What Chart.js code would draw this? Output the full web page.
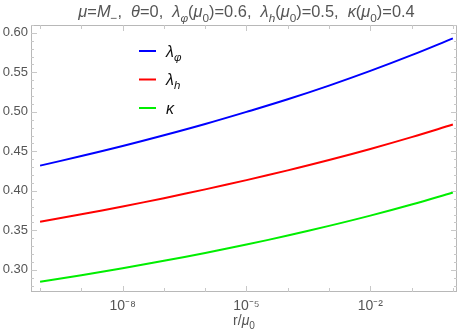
<!DOCTYPE html>
<html>
<head>
<meta charset="utf-8">
<script src="https://cdn.jsdelivr.net/npm/chart.js@4.4.1/dist/chart.umd.min.js"></script>
<style>
  html,body{margin:0;padding:0;background:#fff;}
  #wrap{width:463px;height:336px;position:relative;}
</style>
</head>
<body>
<div id="wrap"><canvas id="c" width="463" height="336"></canvas></div>
<script>
// ---- data ----
const rValues = [1e-10, 1e-9, 1e-8, 1e-7, 1e-6, 1e-5, 1e-4, 1e-3, 1e-2, 1e-1, 1];
const lambdaPhi = [0.4320, 0.4441, 0.4568, 0.4704, 0.4847, 0.5000, 0.5160, 0.5333, 0.5519, 0.5718, 0.5931];
const lambdaH   = [0.3610, 0.3704, 0.3803, 0.3908, 0.4019, 0.4136, 0.4260, 0.4391, 0.4531, 0.4681, 0.4840];
const kappa     = [0.2850, 0.2933, 0.3022, 0.3115, 0.3215, 0.3321, 0.3435, 0.3557, 0.3687, 0.3828, 0.3980];
const seriesNames = ['λφ', 'λh', 'κ'];
const yTicks = [0.30, 0.35, 0.40, 0.45, 0.50, 0.55, 0.60];
const xTickExps = [-8, -5, -2];
const xDecades = [-10, -9, -8, -7, -6, -5, -4, -3, -2, -1, 0];

// rich text pieces (sub = subscript, it = italic)
const titleSegs = [
  {t:'μ',it:1},{t:'='},{t:'M',it:1},{t:'−',sub:1},{t:',  '},{t:'θ',it:1},{t:'=0,  '},
  {t:'λ',it:1},{t:'φ',sub:1,it:1},{t:'('},{t:'μ',it:1},{t:'0',sub:1},{t:')=0.6,  '},
  {t:'λ',it:1},{t:'h',sub:1,it:1},{t:'('},{t:'μ',it:1},{t:'0',sub:1},{t:')=0.5,  '},
  {t:'κ',it:1},{t:'('},{t:'μ',it:1},{t:'0',sub:1},{t:')=0.4'}
];
const legendSegs = [
  [{t:'λ',it:1},{t:'φ',sub:1,it:1}],
  [{t:'λ',it:1},{t:'h',sub:1,it:1}],
  [{t:'κ',it:1}]
];
const xLabelSegs = [{t:'r/'},{t:'μ',it:1},{t:'0',sub:1}];

const FONT = '"Liberation Sans", Arial, sans-serif';
const SUP = {'-':'⁻','0':'⁰','1':'¹','2':'²','3':'³','4':'⁴','5':'⁵','6':'⁶','7':'⁷','8':'⁸','9':'⁹'};

function segFont(s, size){
  const sz = s.sub ? size*0.72 : size;
  return (s.it ? 'italic ' : '') + sz.toFixed(1) + 'px ' + FONT;
}
function richWidth(ctx, segs, size){
  let w = 0;
  for (const s of segs){ ctx.font = segFont(s,size); w += ctx.measureText(s.t).width; }
  return w;
}
function drawRich(ctx, segs, x, y, size, color, align){
  ctx.save();
  ctx.fillStyle = color;
  ctx.textBaseline = 'alphabetic';
  ctx.textAlign = 'left';
  let cx = x;
  if (align === 'center') cx = x - richWidth(ctx, segs, size)/2;
  for (const s of segs){
    ctx.font = segFont(s,size);
    ctx.fillText(s.t, cx, y + (s.sub ? size*0.28 : 0));
    cx += ctx.measureText(s.t).width;
  }
  ctx.restore();
}

const colors = ['#0000ff', '#ff0000', '#00ee00'];
const allSeries = [lambdaPhi, lambdaH, kappa];

const framePlugin = {
  id: 'frame',
  afterDatasetsDraw(chart){
    const ctx = chart.ctx;
    const a = chart.chartArea;
    const xs = chart.scales.x, ys = chart.scales.y;
    ctx.save();
    ctx.strokeStyle = '#b8b8b8';
    ctx.lineWidth = 1;
    ctx.strokeRect(Math.round(a.left)+0.5, Math.round(a.top)+0.5, Math.round(a.right-a.left)-1, Math.round(a.bottom-a.top)-1);
    ctx.strokeStyle = '#c8c8c8';
    ctx.beginPath();
    for (const e of xDecades){
      const px = Math.round(xs.getPixelForValue(Math.pow(10,e))) + 0.5;
      if (px < a.left || px > a.right) continue;
      const len = xTickExps.includes(e) ? 6 : 4;
      ctx.moveTo(px, a.bottom); ctx.lineTo(px, a.bottom - len);
      ctx.moveTo(px, a.top); ctx.lineTo(px, a.top + len);
    }
    for (let k = 27; k <= 61; k++){
      const v = k/100;
      const py = Math.round(ys.getPixelForValue(v)) + 0.5;
      if (py < a.top || py > a.bottom) continue;
      const len = (k % 5 === 0) ? 6 : 3;
      ctx.moveTo(a.left, py); ctx.lineTo(a.left + len, py);
      ctx.moveTo(a.right, py); ctx.lineTo(a.right - len, py);
    }
    ctx.stroke();
    ctx.restore();

    // legend
    const lx0 = 139, lx1 = 156, ly0 = 51, dy = 28.5;
    chart.data.datasets.forEach((ds, i) => {
      const y = ly0 + i*dy;
      ctx.save();
      ctx.strokeStyle = ds.borderColor;
      ctx.lineWidth = 2;
      ctx.beginPath(); ctx.moveTo(lx0, y); ctx.lineTo(lx1, y); ctx.stroke();
      ctx.restore();
      drawRich(ctx, legendSegs[i], 166, y + 5.5, 16, '#111', 'left');
    });
  },
  afterDraw(chart){
    const ctx = chart.ctx;
    const a = chart.chartArea;
    const cx = (a.left + a.right)/2;
    drawRich(ctx, titleSegs, cx + 2.5, 17, 16.4, '#555', 'center');
    drawRich(ctx, xLabelSegs, cx, 325, 14, '#555', 'center');
  }
};

new Chart(document.getElementById('c'), {
  type: 'line',
  data: {
    datasets: allSeries.map((vals, i) => ({
      label: seriesNames[i],
      data: rValues.map((r, j) => ({x: r, y: vals[j]})),
      borderColor: colors[i],
      backgroundColor: colors[i],
      borderWidth: 2,
      pointRadius: 0,
      tension: 0.4,
      fill: false
    }))
  },
  plugins: [framePlugin],
  options: {
    responsive: false,
    animation: false,
    devicePixelRatio: 1,
    layout: { padding: { top: 25, right: 6, left: 0, bottom: 0 } },
    plugins: { legend: { display: false }, title: { display: false }, tooltip: { enabled: false } },
    scales: {
      x: {
        type: 'logarithmic',
        min: Math.pow(10, -10.22),
        max: Math.pow(10, 0.1),
        grid: { display: false, drawTicks: false },
        border: { display: false },
        afterBuildTicks(scale){ scale.ticks = xDecades.map(e => ({value: Math.pow(10, e)})); },
        afterFit(scale){ scale.height = 44; },
        ticks: {
          autoSkip: false, maxRotation: 0, padding: 6,
          color: '#555',
          font: { family: FONT, size: 14 },
          callback(v){
            const e = Math.round(Math.log10(v));
            if (!xTickExps.includes(e)) return '';
            return '10' + String(e).split('').map(c => SUP[c]).join('');
          }
        }
      },
      y: {
        type: 'linear',
        min: 0.272,
        max: 0.610,
        grid: { display: false, drawTicks: false },
        border: { display: false },
        afterBuildTicks(scale){ scale.ticks = yTicks.map(v => ({value: v})); },
        afterFit(scale){ scale.width = 31; },
        ticks: {
          padding: 3,
          color: '#555',
          font: { family: FONT, size: 13 },
          callback(v){ return Number(v).toFixed(2); }
        }
      }
    }
  }
});
</script>
</body>
</html>
